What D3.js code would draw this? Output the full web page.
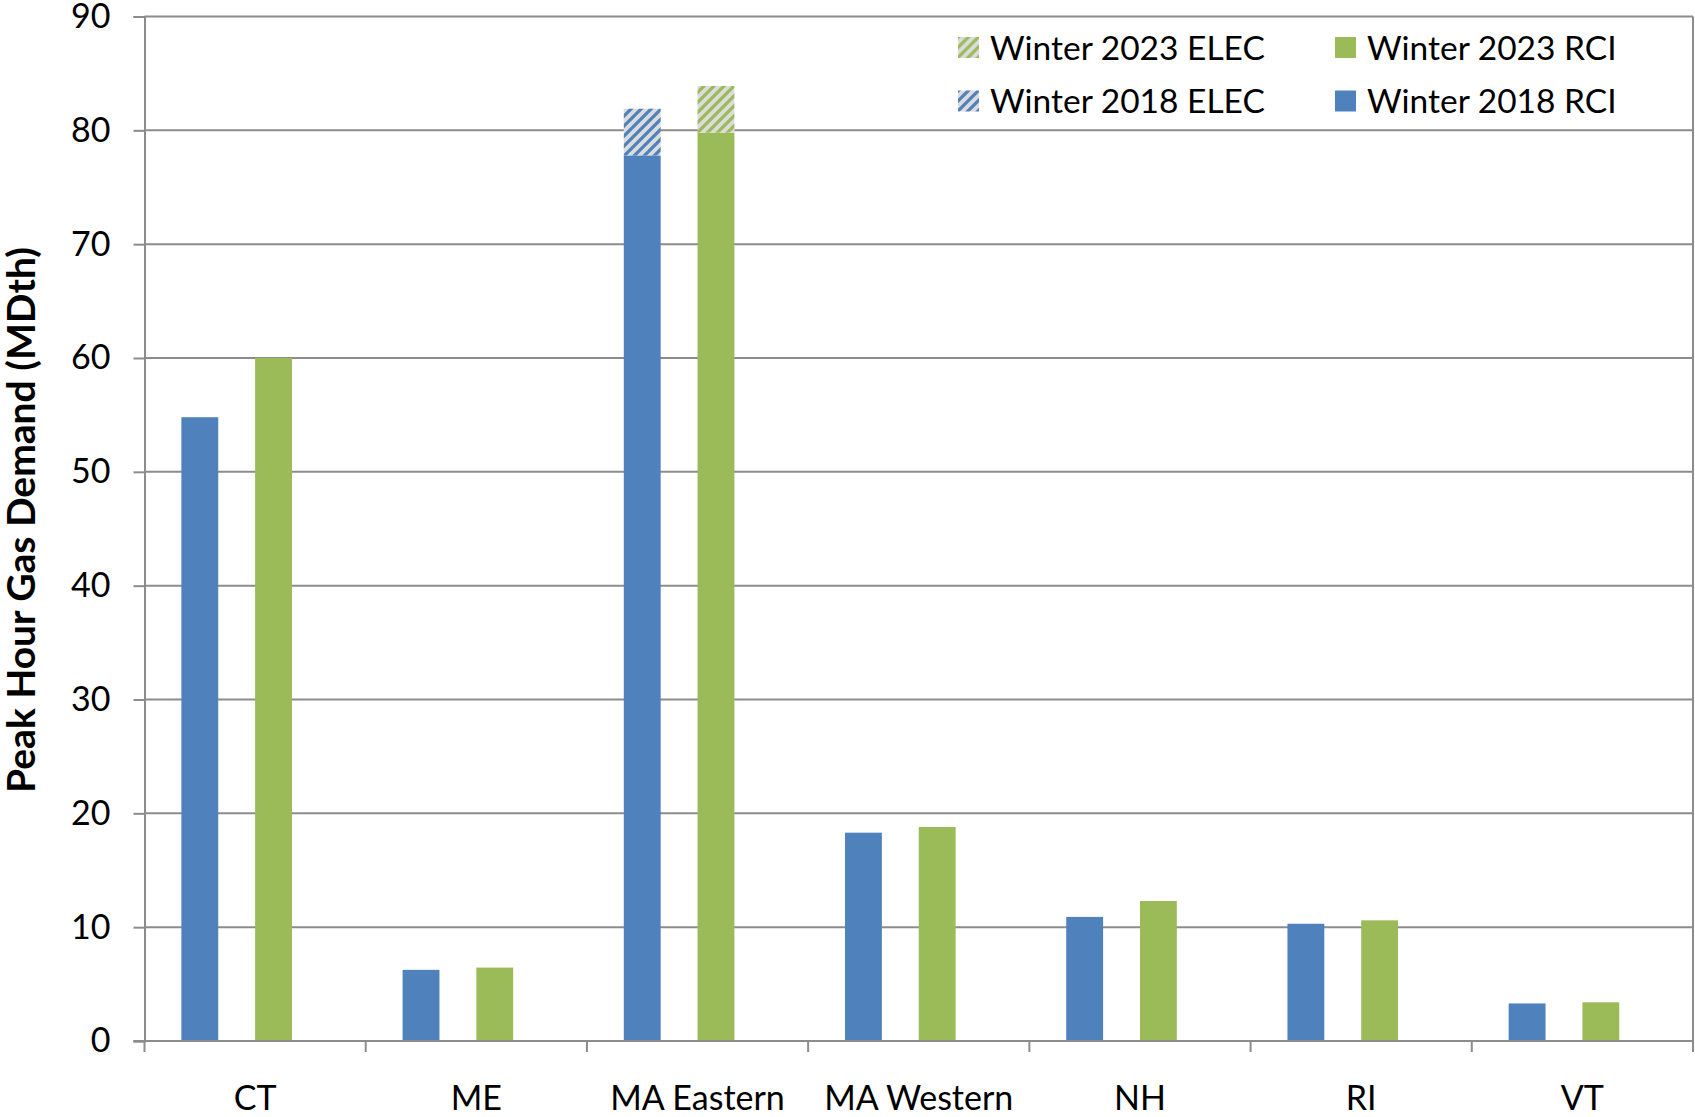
<!DOCTYPE html>
<html>
<head>
<meta charset="utf-8">
<script src="https://cdnjs.cloudflare.com/ajax/libs/d3/7.8.5/d3.min.js"></script>
<style>
  body { margin: 0; background: #fff; }
  svg { display: block; font-family: Lato, "Open Sans", sans-serif; }
</style>
</head>
<body>
<svg id="chart" width="1695" height="1117"></svg>
<script>
// values (MDth)
var categories = ["CT", "ME", "MA Eastern", "MA Western", "NH", "RI", "VT"];
var rci2018  = [54.8, 6.25, 77.8, 18.3, 10.9, 10.3, 3.3];
var elec2018 = [0, 0, 4.1, 0, 0, 0, 0];
var rci2023  = [60.0, 6.45, 79.8, 18.8, 12.3, 10.6, 3.4];
var elec2023 = [0, 0, 4.1, 0, 0, 0, 0];
var yTicks = [0, 10, 20, 30, 40, 50, 60, 70, 80, 90];

var blue = "#4f81bd", green = "#9bbb59", grid = "#8c8c8c";

var svg = d3.select("#chart");
var m = {left: 144.5, right: 1693, top: 16.5, bottom: 1041};

var x = d3.scaleBand().domain(categories).range([m.left, m.right]);
var slot = d3.scaleBand().domain(d3.range(6)).range([0, x.bandwidth()]);
var y = d3.scaleLinear().domain([0, 90]).range([m.bottom, m.top]);

// hatch patterns for the ELEC parts
var defs = svg.append("defs");
function hatch(id, col){
  var p = defs.append("pattern")
    .attr("id", id)
    .attr("patternUnits", "userSpaceOnUse")
    .attr("width", 10).attr("height", 10);
  p.append("rect").attr("width", 10).attr("height", 10).attr("fill", "#dcdcdc");
  p.append("path")
    .attr("d", "M-2,2 l4,-4 M0,10 l10,-10 M8,12 l4,-4")
    .attr("stroke", col).attr("stroke-width", 3.2);
}
hatch("hatch-blue", blue);
hatch("hatch-green", green);

// gridlines
svg.append("g")
  .selectAll("line")
  .data(yTicks.slice(1))
  .join("line")
  .attr("x1", m.left).attr("x2", m.right)
  .attr("y1", d => y(d)).attr("y2", d => y(d))
  .attr("stroke", grid).attr("stroke-width", 2);

// right border
svg.append("line")
  .attr("x1", m.right).attr("x2", m.right)
  .attr("y1", m.top).attr("y2", m.bottom)
  .attr("stroke", grid).attr("stroke-width", 2);

// y axis
var yAxis = svg.append("g")
  .attr("transform", "translate(" + m.left + ",0)")
  .call(d3.axisLeft(y).tickValues(yTicks).tickSize(11).tickPadding(23));
yAxis.select(".domain").attr("stroke", grid).attr("stroke-width", 2);
yAxis.selectAll(".tick line").attr("stroke", grid).attr("stroke-width", 2);
yAxis.selectAll("text")
  .attr("font-family", "Lato, sans-serif")
  .attr("font-size", 34).attr("fill", "#000");

// bars
var series = [
  {rci: rci2018, elec: elec2018, col: blue, hatch: "url(#hatch-blue)", slot: 1},
  {rci: rci2023, elec: elec2023, col: green, hatch: "url(#hatch-green)", slot: 3}
];
series.forEach(function(s){
  var g = svg.append("g");
  g.selectAll("rect.rci")
    .data(categories)
    .join("rect")
    .attr("class", "rci")
    .attr("x", (c) => x(c) + slot(s.slot))
    .attr("width", slot.bandwidth())
    .attr("y", (c, i) => y(s.rci[i]))
    .attr("height", (c, i) => y(0) - y(s.rci[i]))
    .attr("fill", s.col);
  g.selectAll("rect.elec")
    .data(categories.filter((c, i) => s.elec[i] > 0))
    .join("rect")
    .attr("class", "elec")
    .attr("x", (c) => x(c) + slot(s.slot))
    .attr("width", slot.bandwidth())
    .attr("y", (c) => { var i = categories.indexOf(c); return y(s.rci[i] + s.elec[i]); })
    .attr("height", (c) => { var i = categories.indexOf(c); return y(s.rci[i]) - y(s.rci[i] + s.elec[i]); })
    .attr("fill", s.hatch);
});

// x axis
svg.append("line")
  .attr("x1", m.left - 11).attr("x2", m.right)
  .attr("y1", m.bottom).attr("y2", m.bottom)
  .attr("stroke", grid).attr("stroke-width", 2);
svg.append("g")
  .selectAll("line")
  .data(categories.map(c => x(c)).concat([m.right]))
  .join("line")
  .attr("x1", d => d).attr("x2", d => d)
  .attr("y1", m.bottom).attr("y2", m.bottom + 11)
  .attr("stroke", grid).attr("stroke-width", 2);
svg.append("g")
  .selectAll("text")
  .data(categories)
  .join("text")
  .attr("x", c => x(c) + x.bandwidth() / 2)
  .attr("y", 1110)
  .attr("text-anchor", "middle")
  .attr("font-size", 34)
  .text(c => c);

// y title
svg.append("text")
  .attr("transform", "translate(35,520) rotate(-90)")
  .attr("text-anchor", "middle")
  .attr("font-size", 39)
  .attr("font-weight", "bold")
  .text("Peak Hour Gas Demand (MDth)");

// legend
var legend = [
  {label: "Winter 2023 ELEC", fill: "url(#hatch-green)", x: 958, y: 47.5},
  {label: "Winter 2023 RCI", fill: green, x: 1335, y: 47.5},
  {label: "Winter 2018 ELEC", fill: "url(#hatch-blue)", x: 958, y: 101},
  {label: "Winter 2018 RCI", fill: blue, x: 1335, y: 101}
];
var lg = svg.append("g").selectAll("g").data(legend).join("g")
  .attr("transform", d => "translate(" + d.x + "," + d.y + ")");
lg.append("rect")
  .attr("x", 0).attr("y", -10.5)
  .attr("width", 21).attr("height", 21)
  .attr("fill", d => d.fill);
lg.append("text")
  .attr("x", 32).attr("y", 12)
  .attr("font-size", 33.5)
  .text(d => d.label);
</script>
</body>
</html>
